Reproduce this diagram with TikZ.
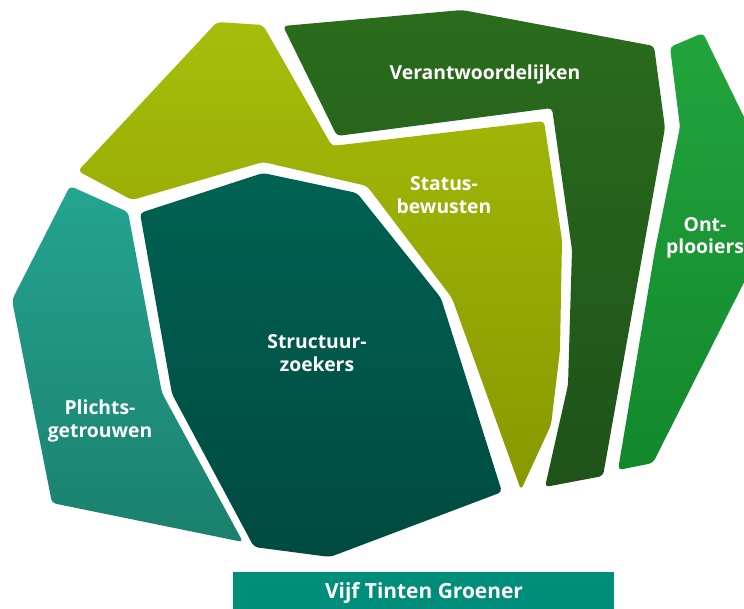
\documentclass[tikz,border=0pt]{standalone}
\usepackage{fontspec}
\setmainfont{Open Sans}
\usetikzlibrary{positioning}

% Farver til de fem felter
\definecolor{plichtTop}{RGB}{36,164,144}
\definecolor{plichtBund}{RGB}{26,128,110}
\definecolor{structTop}{RGB}{0,98,82}
\definecolor{structBund}{RGB}{0,74,64}
\definecolor{statusTop}{RGB}{165,190,10}
\definecolor{statusBund}{RGB}{136,152,0}
\definecolor{verantTop}{RGB}{42,108,28}
\definecolor{verantBund}{RGB}{30,82,26}
\definecolor{ontTop}{RGB}{34,164,60}
\definecolor{ontBund}{RGB}{18,136,44}
\definecolor{banner}{RGB}{0,141,121}

\begin{document}
\begin{tikzpicture}[x=1bp,y=-1bp,
  felt/.style={rounded corners=4bp},
  etiket/.style={text=white,font=\bfseries\fontsize{19.4}{22.5}\selectfont,align=center}]

  \useasboundingbox (0,0) rectangle (744,609);
  \clip (0,0) rectangle (744,609);

  % Plichtsgetrouwen
  \shade[felt,top color=plichtTop,bottom color=plichtBund]
    (70,186) -- (128,212) -- (162,393) -- (243,542) -- (52,503) -- (12,300) -- cycle;

  % Structuurzoekers
  \shade[felt,top color=structTop,bottom color=structBund]
    (140,213) -- (263,173) -- (357,193) -- (441,298) -- (502,492) -- (330,557)
    -- (254,547) -- (172,394) -- cycle;

  % Statusbewusten
  \shade[felt,top color=statusTop,bottom color=statusBund]
    (217,22) -- (263,25) -- (332,146) -- (544,121) -- (562,240) -- (560,350)
    -- (551,425) -- (521,490) -- (452,298) -- (367,186) -- (263,162)
    -- (132,200) -- (78,171) -- cycle;

  % Verantwoordelijken
  \shade[felt,top color=verantTop,bottom color=verantBund]
    (283,26) -- (462,10) -- (654,46) -- (665,128) -- (603,476) -- (545,487)
    -- (568,385) -- (572,250) -- (552,108) -- (337,136) -- cycle;

  % Ontplooiers
  \shade[felt,top color=ontTop,bottom color=ontBund]
    (670,47) -- (703,33) -- (785,201) -- (653,463) -- (618,470) -- (655,250)
    -- (680,127) -- cycle;

  % Navne
  \node[etiket] (verant) at (485,74) {Verantwoordelijken};
  \node[etiket] (status) at (444,195) {Status-\\bewusten};
  \node[etiket] (ont) at (705,238) {Ont-\\plooiers};
  \node[etiket] (struct) at (317,353) {Structuur-\\zoekers};
  \node[etiket] (plicht) at (100,421) {Plichts-\\getrouwen};

  % Titelbjælke
  \fill[banner] (233,572) rectangle (614,615);
  \node[etiket,font=\bfseries\fontsize{21}{24}\selectfont] (titel) at (424,593) {Vijf Tinten Groener};
\end{tikzpicture}
\end{document}
